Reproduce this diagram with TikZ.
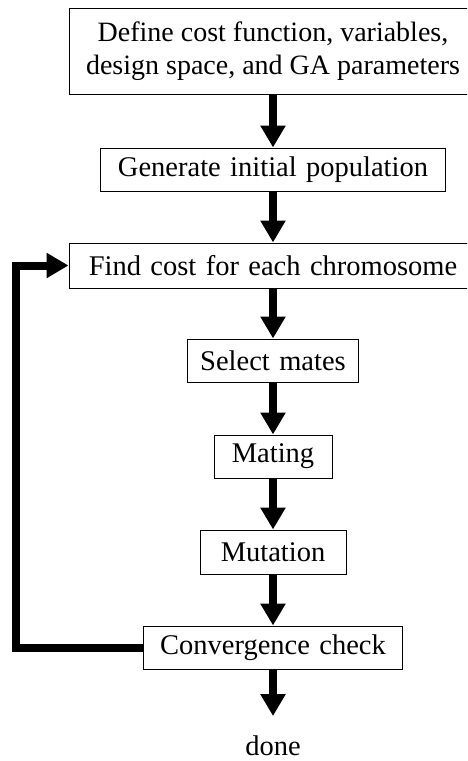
\documentclass[tikz,border=0pt]{standalone}
\usepackage{fontspec}
\setmainfont{Liberation Serif}
\usetikzlibrary{arrows.meta}
\newcommand{\boxfont}{\fontsize{28.5}{33.5}\selectfont\spaceskip=0.33em plus 0.1em minus 0.05em\relax}
\newcommand{\headfont}{\fontsize{28}{33.5}\selectfont}
\begin{document}
\begin{tikzpicture}[x=1pt,y=-1pt,
  box/.style={draw, line width=1pt, inner sep=0pt, font=\boxfont, align=center},
  flow/.style={line width=8pt, line join=miter, -{Triangle[width=24pt,length=22pt]}},
  endtext/.style={inner xsep=0pt, inner ysep=19pt, font=\boxfont}]
\useasboundingbox (0,0) rectangle (467,761);
\clip (0,0) rectangle (467,761);
\node[box, font=\headfont, minimum width=408pt, minimum height=86pt] (b1) at (273,51) {Define cost function, variables,\\design space, and GA parameters};
\node[box, minimum width=345pt, minimum height=43pt] (b2) at (273,169.5) {Generate initial population};
\node[box, minimum width=408pt, minimum height=45pt] (b3) at (273,265.5) {Find cost for each chromosome};
\node[box, minimum width=171pt, minimum height=43pt] (b4) at (273,360.5) {Select mates};
\node[box, minimum width=118pt, minimum height=43pt] (b5) at (273,456.5) {Mating};
\node[box, minimum width=146pt, minimum height=44pt] (b6) at (273,552) {Mutation};
\node[box, minimum width=259pt, minimum height=43pt] (b7) at (273,647.5) {Convergence check};
\node[endtext, anchor=base] (done) at (273,755) {done};
\coordinate (fb) at (16,647.5);
\draw[flow] (b1) -- (b2);
\draw[flow] (b2) -- (b3);
\draw[flow] (b3) -- (b4);
\draw[flow] (b4) -- (b5);
\draw[flow] (b5) -- (b6);
\draw[flow] (b6) -- (b7);
\draw[flow] (b7) -- (done);
\draw[flow] (b7.west) -- (fb) |- (b3.west);
\end{tikzpicture}
\end{document}
